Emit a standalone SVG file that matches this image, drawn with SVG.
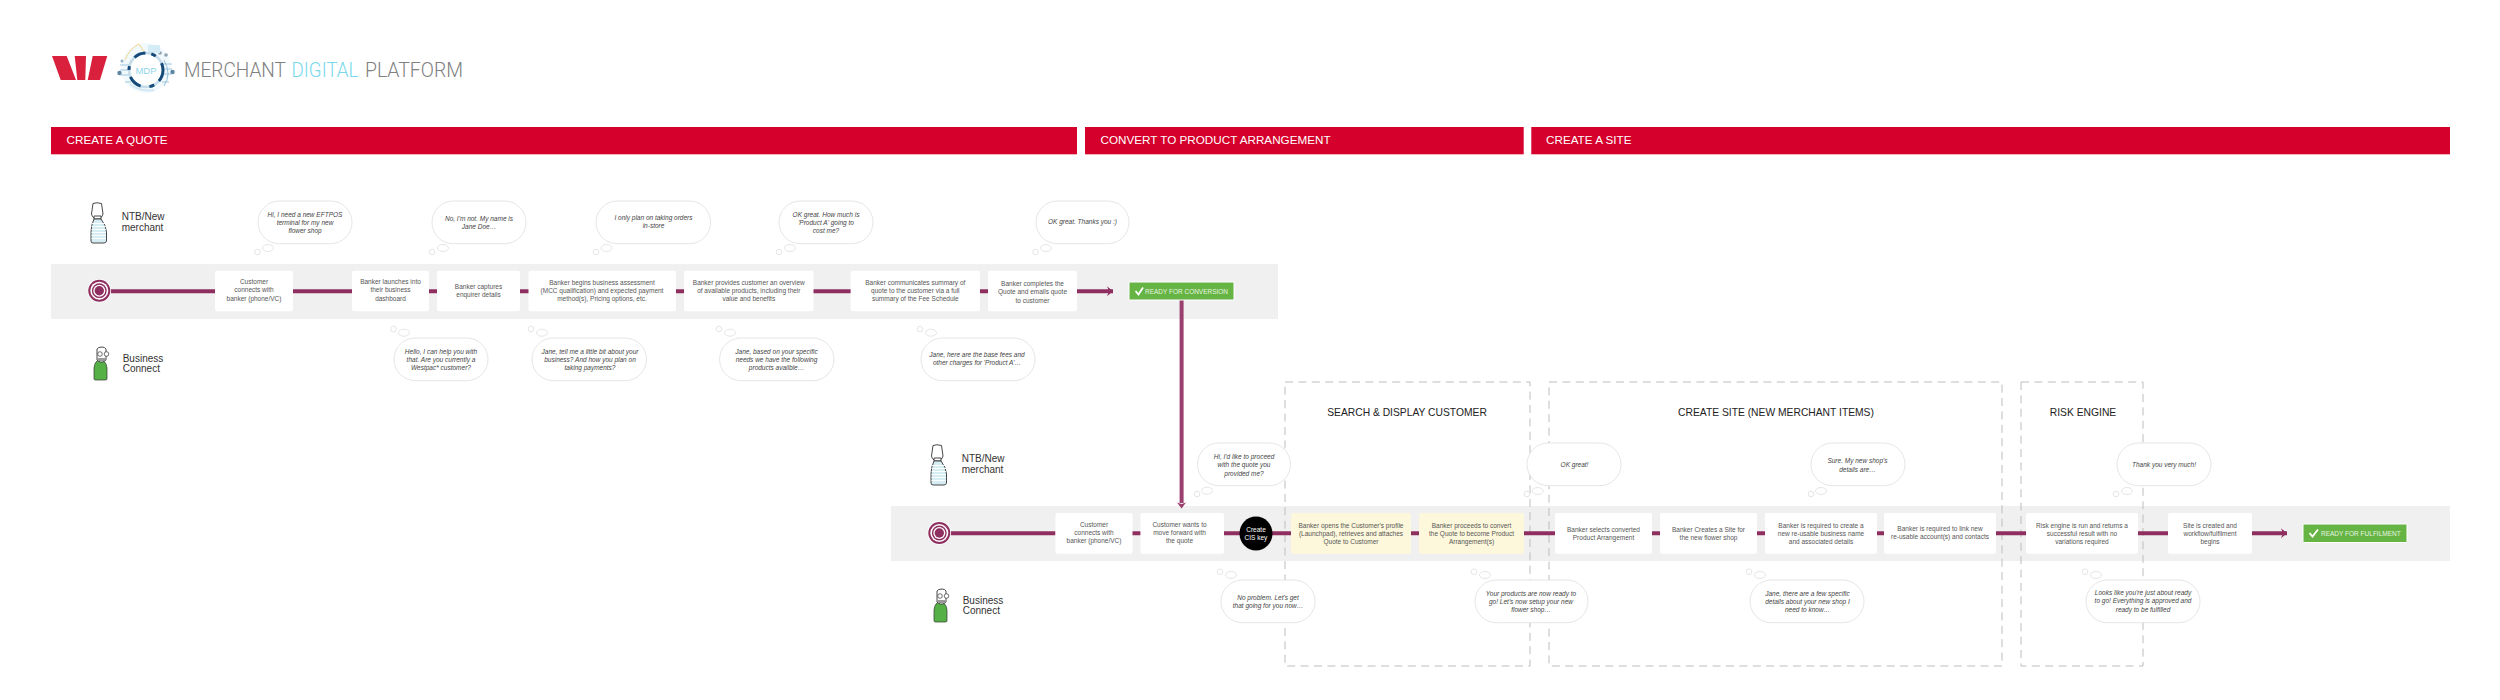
<svg xmlns="http://www.w3.org/2000/svg" width="2500" height="700" viewBox="0 0 2500 700">
<style>
text{font-family:"Liberation Sans",Arial,sans-serif}
.bar{fill:#d5002b}
.bart{fill:#fff;font-size:11.7px}
.band{fill:#f0f0f0}
.n{fill:#fff}
.y{fill:#fdf8dc}
.nt{fill:#555;font-size:6.5px;text-anchor:middle}
.b{fill:#fff;stroke:#dedede;stroke-width:.8}
.bt{fill:#444;font-size:6.5px;font-style:italic;text-anchor:middle}
.dash{fill:none;stroke:#bdbdbd;stroke-width:1;stroke-dasharray:8 5.4}
.ttl{fill:#222;font-size:10.3px;text-anchor:middle}
.c{fill:none;stroke:#8e2f60;stroke-width:4}
.actor{fill:#333;font-size:10px}
.go{fill:#66b444;stroke:#fff;stroke-width:1}
.got{fill:#e8f5e0;font-size:7.6px}
.chk{fill:none;stroke:#fff;stroke-width:1.8}
.ic{stroke:#333;stroke-width:.9}
.lt{font-size:21px;font-weight:300;font-family:Roboto,"Liberation Sans",sans-serif}
</style>
<defs>
<marker id="ah" markerUnits="userSpaceOnUse" markerWidth="8" markerHeight="12" refX="6" refY="5" orient="auto" viewBox="0 0 8 10"><path d="M0 0L6 5L0 10L2 5Z" fill="#8e2f60"/></marker>
<g id="tgt"><circle r="11.800" fill="#fff"/><circle r="11" fill="#8e2f60"/><circle r="9" fill="#fff"/><circle r="7.400" fill="#8e2f60"/><circle r="6" fill="#fff"/><circle r="4.700" fill="#8e2f60"/></g>
<g id="merch"><path class="ic" fill="#fff" d="M93 203.500Q97 202 101.500 203.500L103 214Q102.500 217 100 218L94 218Q92 217 91.500 214Z"/><path class="ic" fill="#fff" d="M94 216h7v3h-7z"/><path class="ic" fill="#d6eef3" d="M94 219L101 219Q106 225 106.500 232L106.500 241Q106 243 104 243L93 243Q91 243 91 241L91 232Q91 225 94 219Z"/><path stroke="#fff" stroke-width=".9" d="M92 223.500H105.500M91.500 226.500H106M91.500 229.500H106M91.500 232.500H106M91.500 235.500H106M91.500 238.500H106"/></g>
<g id="biz"><path fill="#55b146" stroke="#333" stroke-width=".7" d="M94 378L94 368Q95 360 100 360Q106 360 107 368L107 379Q107 380 105 380L95 380Q94 380 94 378Z"/><path class="ic" fill="#fff" d="M97 360L97 349Q98 347 102 347Q105 347 106 349L106 360L103 362L100 362Z"/><circle cx="100" cy="354" r="2.300" fill="#fff" stroke="#333" stroke-width=".7"/><circle cx="106.500" cy="354" r="2.300" fill="#fff" stroke="#333" stroke-width=".7"/><path d="M98 358h7v3h-7z" fill="#999"/></g>
</defs>

<g id="logo">
<path fill="#d9213e" d="M52 56H66.700L76 80H60.700ZM74.700 56H86L85.300 80H77.300ZM92.700 56H107.300L100 80H87.700Z"/>
<circle cx="146" cy="68" r="25" fill="#f1f9fc"/>
<circle cx="119.500" cy="73" r="2.200" fill="#5d84a0"/><circle cx="172.500" cy="72" r="2.200" fill="#5d84a0"/><circle cx="122" cy="61" r="1.500" fill="#8fb2c8"/><circle cx="166" cy="55" r="1.800" fill="#8fa2ae"/><circle cx="160" cy="53" r="1.800" fill="#8fa2ae"/>
<path d="M125 60Q130 48 139 44L144 52" fill="none" stroke="#f3d58a" stroke-width="1"/>
<path d="M148 45h12v8h-12z" fill="#d4ecf6"/>
<path d="M120 65h10M120 70h10M120 75h10M162 64h10M162 69h10M162 74h10M125 82h6M162 82h7" stroke="#8dbdd8" stroke-width=".8"/>
<path d="M164 60Q172 74 164 86" fill="none" stroke="#7fb2d0" stroke-width=".8"/>
<circle cx="146" cy="70" r="17" fill="none" stroke="#c6dce8" stroke-width="2.500"/>
<circle cx="146" cy="70" r="17" fill="none" stroke="#164a7a" stroke-width="3" stroke-dasharray="12 6 5 9 14 7 4 10"/>
<circle cx="146" cy="70" r="15" fill="#fff"/>
<path d="M130 84Q140 92 154 90" fill="none" stroke="#d3e8f2" stroke-width="2"/>
<text x="146" y="73.500" fill="#8fd6ea" font-size="9.500" text-anchor="middle">MDP</text>
<text class="lt" x="184" y="76.500" fill="#808080" textLength="102" lengthAdjust="spacingAndGlyphs">MERCHANT</text>
<text class="lt" x="291.500" y="76.500" fill="#79d8ec" textLength="67" lengthAdjust="spacingAndGlyphs">DIGITAL</text>
<text class="lt" x="365" y="76.500" fill="#808080" textLength="98" lengthAdjust="spacingAndGlyphs">PLATFORM</text>
</g>

<g id="headers">
<rect class="bar" x="51" y="127" width="1026" height="27.300"/><text class="bart" x="66.500" y="144.200">CREATE A QUOTE</text>
<rect class="bar" x="1085" y="127" width="438.700" height="27.300"/><text class="bart" x="1100.500" y="144.200">CONVERT TO PRODUCT ARRANGEMENT</text>
<rect class="bar" x="1531.300" y="127" width="918.700" height="27.300"/><text class="bart" x="1546" y="144.200">CREATE A SITE</text>
</g>

<rect class="band" x="51" y="264" width="1227" height="55"/>
<rect class="band" x="891" y="506" width="1559" height="55"/>

<g id="zones">
<g id="zone-search"><rect class="dash" x="1285" y="382" width="245" height="284"/><text class="ttl" x="1407" y="415.800">SEARCH &amp; DISPLAY CUSTOMER</text></g>
<g id="zone-site"><rect class="dash" x="1549" y="382" width="453" height="284"/><text class="ttl" x="1776" y="415.800">CREATE SITE (NEW MERCHANT ITEMS)</text></g>
<g id="zone-risk"><rect class="dash" x="2021" y="382" width="122" height="284"/><text class="ttl" x="2083" y="415.800">RISK ENGINE</text></g>
</g>

<g id="connectors">
<path class="c" d="M110 291.300H215M293 291.300H352M429 291.300H437M520 291.300H529M676 291.300H684M813 291.300H851M980 291.300H988M950 533.300H1055.500M1132 533.300H1141M1224 533.300H1240M1272 533.300H1291M1411 533.300H1419M1524 533.300H1555M1652 533.300H1660M1757 533.300H1765M1877 533.300H1884M1996 533.300H2026M2138 533.300H2168"/>
<path class="c" d="M1077 291.300H1113" marker-end="url(#ah)"/>
<path class="c" d="M2252 533.300H2287" marker-end="url(#ah)"/>
<path d="M1181.600 300V503" stroke="#9b3f6f" stroke-width="4" fill="none"/>
<path d="M1177 502.500L1181.600 504L1186 502.500L1181.600 508.500Z" fill="#9b3f6f"/>
</g>

<g id="start-1"><use href="#tgt" x="99.300" y="290.700"/></g>
<g id="start-2"><use href="#tgt" x="939.300" y="533"/></g>

<g id="actor-merchant-1"><use href="#merch"/><text class="actor" x="121.700" y="220.300">NTB/New</text><text class="actor" x="121.700" y="230.600">merchant</text></g>
<g id="actor-business-1"><use href="#biz"/><text class="actor" x="122.700" y="361.600">Business</text><text class="actor" x="122.700" y="372">Connect</text></g>
<g id="actor-merchant-2"><use href="#merch" x="840" y="242"/><text class="actor" x="961.700" y="462.300">NTB/New</text><text class="actor" x="961.700" y="472.600">merchant</text></g>
<g id="actor-business-2"><use href="#biz" x="840" y="242"/><text class="actor" x="962.700" y="603.600">Business</text><text class="actor" x="962.700" y="614">Connect</text></g>

<g id="n1"><rect class="n" x="215" y="270.700" width="78" height="40.500" rx="2"/><text class="nt"><tspan x="254" y="284">Customer</tspan><tspan x="254" y="292.300">connects with</tspan><tspan x="254" y="300.600">banker (phone/VC)</tspan></text></g>
<g id="n2"><rect class="n" x="352" y="270.700" width="77" height="40.500" rx="2"/><text class="nt"><tspan x="390.500" y="284">Banker launches into</tspan><tspan x="390.500" y="292.300">their business</tspan><tspan x="390.500" y="300.600">dashboard</tspan></text></g>
<g id="n3"><rect class="n" x="437" y="270.700" width="83" height="40.500" rx="2"/><text class="nt"><tspan x="478.500" y="288.700">Banker captures</tspan><tspan x="478.500" y="297">enquirer details</tspan></text></g>
<g id="n4"><rect class="n" x="528.500" y="270.700" width="147.500" height="40.500" rx="2"/><text class="nt"><tspan x="602" y="284.500">Banker begins business assessment</tspan><tspan x="602" y="292.800">(MCC qualification) and expected payment</tspan><tspan x="602" y="301">method(s), Pricing options, etc.</tspan></text></g>
<g id="n5"><rect class="n" x="684" y="270.700" width="129.500" height="40.500" rx="2"/><text class="nt"><tspan x="748.800" y="284.500">Banker provides customer an overview</tspan><tspan x="748.800" y="292.800">of available products, including their</tspan><tspan x="748.800" y="301">value and benefits</tspan></text></g>
<g id="n6"><rect class="n" x="850.600" y="270.700" width="129.400" height="40.500" rx="2"/><text class="nt"><tspan x="915.300" y="284.500">Banker communicates summary of</tspan><tspan x="915.300" y="292.800">quote to the customer via a full</tspan><tspan x="915.300" y="301">summary of the Fee Schedule</tspan></text></g>
<g id="n7"><rect class="n" x="988" y="270.700" width="89" height="40.500" rx="2"/><text class="nt"><tspan x="1032.500" y="286">Banker completes the</tspan><tspan x="1032.500" y="294.300">Quote and emails quote</tspan><tspan x="1032.500" y="302.600">to customer</tspan></text></g>
<g id="go1"><rect class="go" x="1129" y="282" width="105" height="18" rx="1"/><path class="chk" d="M1135.500 291L1138.500 294.500L1143 287.500"/><text class="got" x="1145" y="293.800" textLength="83" lengthAdjust="spacingAndGlyphs">READY FOR CONVERSION</text></g>

<g id="m1"><rect class="n" x="1055.500" y="513" width="77" height="40.700" rx="2"/><text class="nt"><tspan x="1094" y="526.800">Customer</tspan><tspan x="1094" y="535">connects with</tspan><tspan x="1094" y="543.300">banker (phone/VC)</tspan></text></g>
<g id="m2"><rect class="n" x="1140.400" y="513" width="83.600" height="40.700" rx="2"/><text class="nt"><tspan x="1179.500" y="526.800">Customer wants to</tspan><tspan x="1179.500" y="535">move forward with</tspan><tspan x="1179.500" y="543.300">the quote</tspan></text></g>
<g id="m3"><ellipse cx="1256" cy="533.500" rx="16.500" ry="17" fill="#000"/><text class="nt" style="fill:#fff"><tspan x="1256" y="531.500">Create</tspan><tspan x="1256" y="539.800">CIS key</tspan></text></g>
<g id="m4"><rect class="y" x="1291" y="513" width="120" height="40.700" rx="2"/><text class="nt"><tspan x="1351" y="527.500">Banker opens the Customer's profile</tspan><tspan x="1351" y="535.700">(Launchpad), retrieves and attaches</tspan><tspan x="1351" y="544">Quote to Customer</tspan></text></g>
<g id="m5"><rect class="y" x="1419" y="513" width="105" height="40.700" rx="2"/><text class="nt"><tspan x="1471.500" y="527.500">Banker proceeds to convert</tspan><tspan x="1471.500" y="535.700">the Quote to become Product</tspan><tspan x="1471.500" y="544">Arrangement(s)</tspan></text></g>
<g id="m6"><rect class="n" x="1555" y="513" width="97" height="40.700" rx="2"/><text class="nt"><tspan x="1603.500" y="531.500">Banker selects converted</tspan><tspan x="1603.500" y="539.800">Product Arrangement</tspan></text></g>
<g id="m7"><rect class="n" x="1660" y="513" width="97" height="40.700" rx="2"/><text class="nt"><tspan x="1708.500" y="531.500">Banker Creates a Site for</tspan><tspan x="1708.500" y="539.800">the new flower shop</tspan></text></g>
<g id="m8"><rect class="n" x="1765" y="513" width="112" height="40.700" rx="2"/><text class="nt"><tspan x="1821" y="527.500">Banker is required to create a</tspan><tspan x="1821" y="535.700">new re-usable business name</tspan><tspan x="1821" y="544">and associated details</tspan></text></g>
<g id="m9"><rect class="n" x="1884" y="513" width="112" height="40.700" rx="2"/><text class="nt"><tspan x="1940" y="530.800">Banker is required to link new</tspan><tspan x="1940" y="539">re-usable account(s) and contacts</tspan></text></g>
<g id="m10"><rect class="n" x="2026" y="513" width="112" height="40.700" rx="2"/><text class="nt"><tspan x="2082" y="527.500">Risk engine is run and returns a</tspan><tspan x="2082" y="535.700">successful result with no</tspan><tspan x="2082" y="544">variations required</tspan></text></g>
<g id="m11"><rect class="n" x="2168" y="513" width="84" height="40.700" rx="2"/><text class="nt"><tspan x="2210" y="527.500">Site is created and</tspan><tspan x="2210" y="535.700">workflow/fulfilment</tspan><tspan x="2210" y="544">begins</tspan></text></g>
<g id="go2"><rect class="go" x="2303" y="524" width="104" height="18.500" rx="1"/><path class="chk" d="M2309.500 533L2312.500 536.500L2318 529.500"/><text class="got" x="2321" y="536" textLength="79.700" lengthAdjust="spacingAndGlyphs">READY FOR FULFILMENT</text></g>

<g id="bubble-1"><rect class="b" x="258" y="201" width="94" height="42.700" rx="21.300"/><ellipse class="b" cx="268" cy="248" rx="5.500" ry="3.500"/><circle class="b" cx="257.500" cy="252" r="2.800"/><text class="bt"><tspan x="305" y="216.500">Hi, I need a new EFTPOS</tspan><tspan x="305" y="224.800">terminal for my new</tspan><tspan x="305" y="233">flower shop</tspan></text></g>
<g id="bubble-2"><rect class="b" x="432" y="201" width="94" height="42.700" rx="21.300"/><ellipse class="b" cx="443" cy="248" rx="5.500" ry="3.500"/><circle class="b" cx="432" cy="252" r="2.800"/><text class="bt"><tspan x="479" y="220.800">No, I'm not. My name is</tspan><tspan x="479" y="229">Jane Doe…</tspan></text></g>
<g id="bubble-3"><rect class="b" x="596" y="201" width="114.600" height="42.700" rx="21.300"/><ellipse class="b" cx="606.500" cy="248" rx="5.500" ry="3.500"/><circle class="b" cx="596" cy="252" r="2.800"/><text class="bt"><tspan x="653.500" y="220">I only plan on taking orders</tspan><tspan x="653.500" y="228.200">in-store</tspan></text></g>
<g id="bubble-4"><rect class="b" x="779" y="201" width="94" height="42.700" rx="21.300"/><ellipse class="b" cx="790" cy="248" rx="5.500" ry="3.500"/><circle class="b" cx="779" cy="252" r="2.800"/><text class="bt"><tspan x="826" y="216.800">OK great. How much is</tspan><tspan x="826" y="225">'Product A' going to</tspan><tspan x="826" y="233.300">cost me?</tspan></text></g>
<g id="bubble-5"><rect class="b" x="1036" y="201" width="93" height="42.700" rx="21.300"/><ellipse class="b" cx="1046" cy="248" rx="5.500" ry="3.500"/><circle class="b" cx="1035.500" cy="252" r="2.800"/><text class="bt"><tspan x="1082.500" y="223.800">OK great. Thanks you :)</tspan></text></g>
<g id="bubble-6"><rect class="b" x="394" y="338" width="94" height="42.700" rx="21.300"/><ellipse class="b" cx="404" cy="332.700" rx="5.500" ry="3.500"/><circle class="b" cx="393.500" cy="329" r="2.800"/><text class="bt"><tspan x="441" y="353.500">Hello, I can help you with</tspan><tspan x="441" y="361.800">that. Are you currently a</tspan><tspan x="441" y="370">Westpac* customer?</tspan></text></g>
<g id="bubble-7"><rect class="b" x="532" y="338" width="114.500" height="42.700" rx="21.300"/><ellipse class="b" cx="542" cy="332.700" rx="5.500" ry="3.500"/><circle class="b" cx="531" cy="329" r="2.800"/><text class="bt"><tspan x="590" y="353.500">Jane, tell me a little bit about your</tspan><tspan x="590" y="361.800">business? And how you plan on</tspan><tspan x="590" y="370">taking payments?</tspan></text></g>
<g id="bubble-8"><rect class="b" x="719.600" y="338" width="114.400" height="42.700" rx="21.300"/><ellipse class="b" cx="730" cy="332.700" rx="5.500" ry="3.500"/><circle class="b" cx="719" cy="329" r="2.800"/><text class="bt"><tspan x="776.500" y="353.500">Jane, based on your specific</tspan><tspan x="776.500" y="361.800">needs we have the following</tspan><tspan x="776.500" y="370">products availble…</tspan></text></g>
<g id="bubble-9"><rect class="b" x="921" y="338" width="114" height="42.700" rx="21.300"/><ellipse class="b" cx="931" cy="332.700" rx="5.500" ry="3.500"/><circle class="b" cx="920" cy="329" r="2.800"/><text class="bt"><tspan x="977" y="357">Jane, here are the base fees and</tspan><tspan x="977" y="365.300">other charges for 'Product A'…</tspan></text></g>

<g id="bubble-10"><rect class="b" x="1197.500" y="443" width="93" height="42.700" rx="21.300"/><ellipse class="b" cx="1207" cy="490.700" rx="5.500" ry="3.500"/><circle class="b" cx="1197" cy="494" r="2.800"/><text class="bt"><tspan x="1244" y="459">Hi, I'd like to proceed</tspan><tspan x="1244" y="467.300">with the quote you</tspan><tspan x="1244" y="475.500">provided me?</tspan></text></g>
<g id="bubble-11"><rect class="b" x="1527" y="443" width="94" height="42.700" rx="21.300"/><ellipse class="b" cx="1537.700" cy="491" rx="5.500" ry="3.500"/><circle class="b" cx="1527" cy="494" r="2.800"/><text class="bt"><tspan x="1574.500" y="466.500">OK great!</tspan></text></g>
<g id="bubble-12"><rect class="b" x="1811" y="443" width="94" height="42.700" rx="21.300"/><ellipse class="b" cx="1821" cy="491" rx="5.500" ry="3.500"/><circle class="b" cx="1811" cy="494" r="2.800"/><text class="bt"><tspan x="1857.500" y="463.300">Sure. My new shop's</tspan><tspan x="1857.500" y="471.500">details are…</tspan></text></g>
<g id="bubble-13"><rect class="b" x="2117" y="443" width="94" height="42.700" rx="21.300"/><ellipse class="b" cx="2127" cy="491" rx="5.500" ry="3.500"/><circle class="b" cx="2116" cy="494" r="2.800"/><text class="bt"><tspan x="2164" y="466.500">Thank you very much!</tspan></text></g>
<g id="bubble-14"><rect class="b" x="1221" y="580" width="94" height="42.700" rx="21.300"/><ellipse class="b" cx="1231" cy="575" rx="5.500" ry="3.500"/><circle class="b" cx="1220" cy="571.700" r="2.800"/><text class="bt"><tspan x="1268" y="599.500">No problem. Let's get</tspan><tspan x="1268" y="607.800">that going for you now…</tspan></text></g>
<g id="bubble-15"><rect class="b" x="1475" y="580" width="113" height="42.700" rx="21.300"/><ellipse class="b" cx="1485" cy="575" rx="5.500" ry="3.500"/><circle class="b" cx="1474" cy="571.700" r="2.800"/><text class="bt"><tspan x="1531" y="595.700">Your products are now ready to</tspan><tspan x="1531" y="604">go! Let's now setup your new</tspan><tspan x="1531" y="612.200">flower shop…</tspan></text></g>
<g id="bubble-16"><rect class="b" x="1750" y="580" width="114" height="42.700" rx="21.300"/><ellipse class="b" cx="1760" cy="575" rx="5.500" ry="3.500"/><circle class="b" cx="1749" cy="571.700" r="2.800"/><text class="bt"><tspan x="1807.500" y="595.700">Jane, there are a few specific</tspan><tspan x="1807.500" y="604">details about your new shop I</tspan><tspan x="1807.500" y="612.200">need to know…</tspan></text></g>
<g id="bubble-17"><rect class="b" x="2086" y="580" width="114" height="42.700" rx="21.300"/><ellipse class="b" cx="2096" cy="575" rx="5.500" ry="3.500"/><circle class="b" cx="2085" cy="571.700" r="2.800"/><text class="bt"><tspan x="2143" y="595">Looks like you're just about ready</tspan><tspan x="2143" y="603.200">to go! Everything is approved and</tspan><tspan x="2143" y="611.500">ready to be fulfilled</tspan></text></g>
</svg>
